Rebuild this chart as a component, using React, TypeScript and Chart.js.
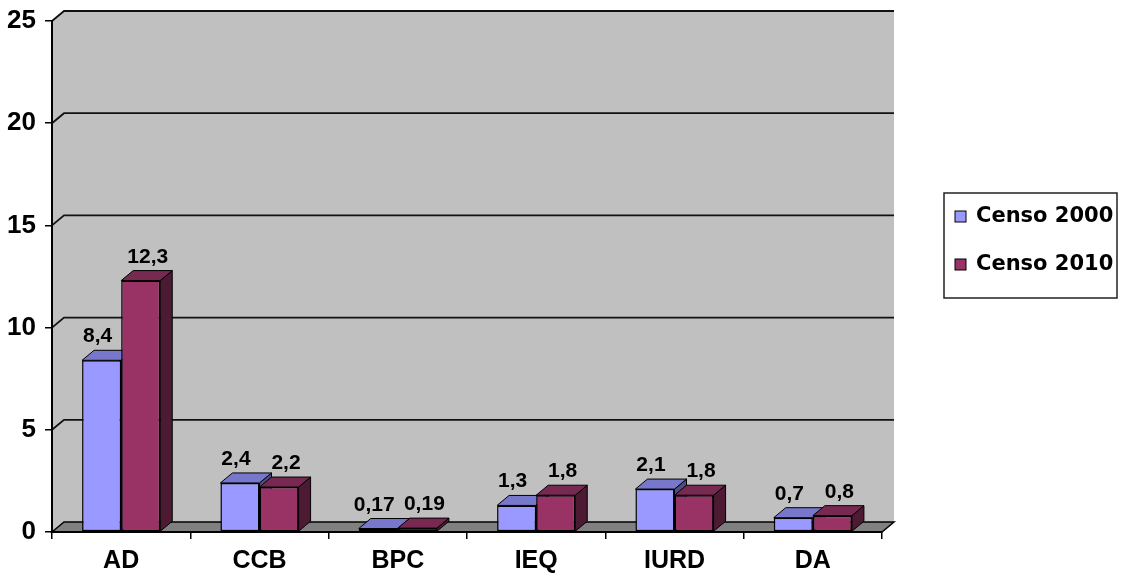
import React, { useEffect, useRef } from "react";
import { Chart, registerables } from "chart.js";

Chart.register(...registerables);

const categories = ["AD", "CCB", "BPC", "IEQ", "IURD", "DA"];
const censo2000 = [8.4, 2.4, 0.17, 1.3, 2.1, 0.7];
const censo2010 = [12.3, 2.2, 0.19, 1.8, 1.8, 0.8];
const seriesLabels = ["Censo 2000", "Censo 2010"];
const yTicks = [0, 5, 10, 15, 20, 25];

const DX = 12;
const DY = 10;
const FONT = '"Liberation Sans", Arial, sans-serif';
const LEGEND_FONT = '"DejaVu Sans", sans-serif';

const faces = [
  { front: "#9999FF", top: "#7777CC", side: "#4D4D80" },
  { front: "#993366", top: "#772952", side: "#4D1A33" },
];
const labelOffsets = [-4, 7];

function poly(ctx: CanvasRenderingContext2D, pts: number[][], fill: string, stroke = "#000", lw = 1) {
  ctx.beginPath();
  ctx.moveTo(pts[0][0], pts[0][1]);
  for (let i = 1; i < pts.length; i++) ctx.lineTo(pts[i][0], pts[i][1]);
  ctx.closePath();
  ctx.fillStyle = fill;
  ctx.fill();
  if (stroke) {
    ctx.strokeStyle = stroke;
    ctx.lineWidth = lw;
    ctx.stroke();
  }
}

const threeD = {
  id: "threeD",
  beforeDraw(chart: any) {
    const { ctx, chartArea } = chart;
    const { left: L, right: R, top: T, bottom: B } = chartArea;
    const ys = chart.scales.y;
    ctx.save();
    ctx.fillStyle = "#fff";
    ctx.fillRect(0, 0, chart.width, chart.height);
    poly(
      ctx,
      [[L, B], [L, T], [L + DX, T - DY], [R + DX, T - DY], [R + DX, B - DY], [R, B]],
      "#C0C0C0",
      ""
    );
    poly(ctx, [[L, B], [L + DX, B - DY], [R + DX, B - DY], [R, B]], "#808080", "#000", 1.5);
    ctx.strokeStyle = "#111";
    ctx.lineWidth = 1.8;
    for (const v of yTicks) {
      if (v === 0) continue;
      const y = ys.getPixelForValue(v);
      ctx.beginPath();
      ctx.moveTo(L, y);
      ctx.lineTo(L + DX, y - DY);
      ctx.lineTo(R + DX, y - DY);
      ctx.stroke();
    }
    ctx.restore();
  },
  beforeDatasetsDraw(chart: any) {
    const { ctx } = chart;
    ctx.save();
    chart.data.datasets.forEach((_ds: any, di: number) => {
      const meta = chart.getDatasetMeta(di);
      meta.data.forEach((el: any) => {
        const { x, y, base, width } = el.getProps(["x", "y", "base", "width"], true);
        const l = x - width / 2;
        const r = x + width / 2;
        poly(ctx, [[r, y], [r + DX, y - DY], [r + DX, base - DY], [r, base]], faces[di].side);
        poly(ctx, [[l, y], [l + DX, y - DY], [r + DX, y - DY], [r, y]], faces[di].top);
      });
    });
    ctx.restore();
  },
  afterDatasetsDraw(chart: any) {
    const { ctx } = chart;
    ctx.save();
    ctx.font = `bold 21px ${FONT}`;
    ctx.fillStyle = "#000";
    ctx.textAlign = "center";
    ctx.textBaseline = "alphabetic";
    chart.data.datasets.forEach((ds: any, di: number) => {
      const meta = chart.getDatasetMeta(di);
      meta.data.forEach((el: any, i: number) => {
        const { x, y } = el.getProps(["x", "y"], true);
        const txt = String(ds.data[i]).replace(".", ",");
        ctx.fillText(txt, x + labelOffsets[di], y - DY - 8);
      });
    });
    ctx.restore();
  },
  afterDraw(chart: any) {
    const { ctx } = chart;
    ctx.save();
    const bx = 944, by = 193, bw = 173, bh = 105;
    ctx.fillStyle = "#fff";
    ctx.fillRect(bx, by, bw, bh);
    ctx.strokeStyle = "#222";
    ctx.lineWidth = 1.5;
    ctx.strokeRect(bx, by, bw, bh);
    ctx.font = `bold 21px ${LEGEND_FONT}`;
    ctx.textAlign = "left";
    ctx.textBaseline = "alphabetic";
    chart.data.datasets.forEach((ds: any, di: number) => {
      const baseY = 222 + di * 48;
      ctx.fillStyle = faces[di].front;
      ctx.fillRect(955, baseY - 11, 11, 11);
      ctx.strokeStyle = "#000";
      ctx.lineWidth = 1;
      ctx.strokeRect(955, baseY - 11, 11, 11);
      ctx.fillStyle = "#000";
      ctx.fillText(ds.label, 976, baseY);
    });
    ctx.restore();
  },
};

export default function App() {
  const ref = useRef<HTMLCanvasElement | null>(null);
  useEffect(() => {
    document.body.style.margin = "0";
    const canvas = ref.current!;
    const chart = new Chart(canvas, {
      type: "bar",
      data: {
        labels: categories,
        datasets: [
          {
            label: seriesLabels[0],
            data: censo2000,
            backgroundColor: faces[0].front,
            borderColor: "#000",
            borderWidth: 1.5,
            borderSkipped: false,
            categoryPercentage: 0.565,
            barPercentage: 1,
          },
          {
            label: seriesLabels[1],
            data: censo2010,
            backgroundColor: faces[1].front,
            borderColor: "#000",
            borderWidth: 1.5,
            borderSkipped: false,
            categoryPercentage: 0.565,
            barPercentage: 1,
          },
        ],
      },
      options: {
        responsive: false,
        animation: false,
        layout: { padding: { left: 0, top: 21, right: 243, bottom: 0 } },
        plugins: { legend: { display: false }, tooltip: { enabled: false } },
        scales: {
          x: {
            afterFit: (s: any) => {
              s.height = 47;
              s.paddingLeft = 0;
              s.paddingRight = 0;
            },
            grid: { display: true, drawOnChartArea: false, drawTicks: true, tickLength: 7, color: "#000", lineWidth: 1.5 },
            border: { display: true, color: "#000", width: 2 },
            ticks: { color: "#000", font: { family: FONT, size: 25, weight: "bold" }, padding: 7 },
          },
          y: {
            min: 0,
            max: 25,
            afterFit: (s: any) => {
              s.width = 52;
              s.paddingTop = 0;
              s.paddingBottom = 0;
            },
            grid: { display: true, drawOnChartArea: false, drawTicks: true, tickLength: 7, color: "#000", lineWidth: 1.5 },
            border: { display: true, color: "#000", width: 2 },
            ticks: {
              stepSize: 5,
              color: "#000",
              font: { family: FONT, size: 26, weight: "bold" },
              padding: 9,
            },
          },
        },
      },
      plugins: [threeD],
    });
    return () => chart.destroy();
  }, []);
  return (
    <div style={{ width: 1125, height: 579 }}>
      <canvas ref={ref} width={1125} height={579} style={{ display: "block" }} />
    </div>
  );
}
